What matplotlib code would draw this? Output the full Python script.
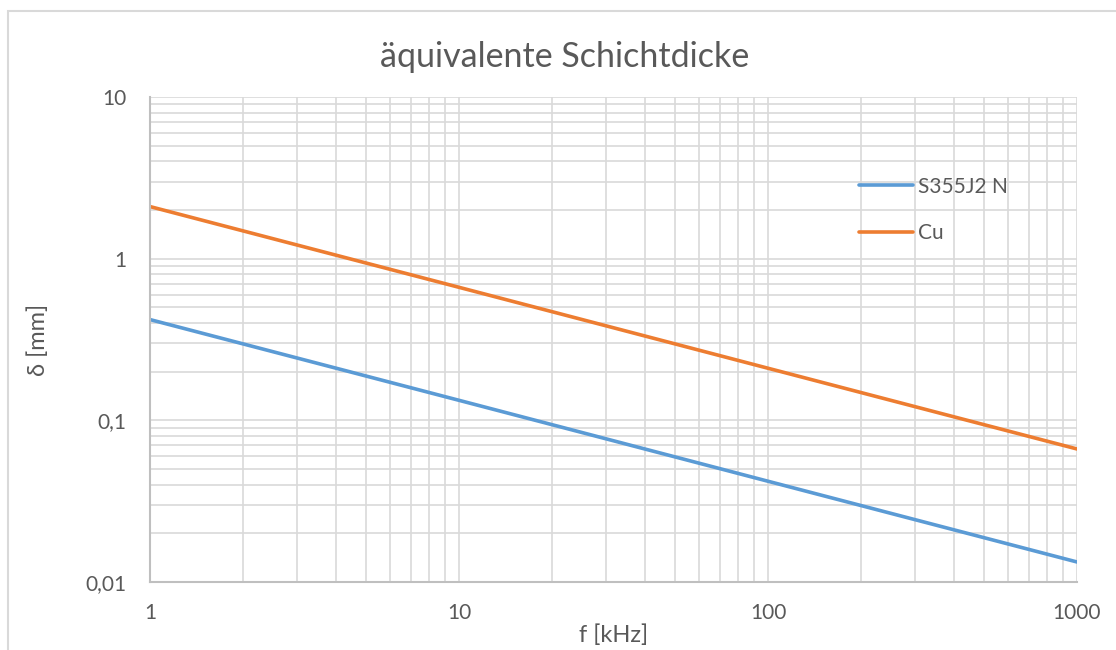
import matplotlib
matplotlib.use("Agg")
import matplotlib.pyplot as plt
from matplotlib.ticker import LogLocator, FixedLocator, FixedFormatter, NullFormatter
from matplotlib.patches import Rectangle

# Data
freq_khz = [1, 10, 100, 1000]
s355 = [0.42, 0.133, 0.042, 0.0133]
cu = [2.1, 0.665, 0.21, 0.0665]
series_names = ["S355J2 N", "Cu"]
x_ticks = [1, 10, 100, 1000]
x_ticklabels = ["1", "10", "100", "1000"]
y_ticks = [0.01, 0.1, 1, 10]
y_ticklabels = ["0,01", "0,1", "1", "10"]

plt.rcParams['font.family'] = ['Lato', 'DejaVu Sans']
txt = '#595959'

W, H = 1116, 650
fig = plt.figure(figsize=(W / 100, H / 100), dpi=100)
ax = fig.add_axes([150 / W, (H - 582) / H, (1077 - 150) / W, (582 - 97) / H])

# outer chart border
fig.patches.append(Rectangle((8 / W, -0.1), 1.2, (H - 11) / H + 0.1, transform=fig.transFigure,
                             fill=False, edgecolor='#d9d9d9', linewidth=1.5))

ax.plot(freq_khz, s355, color='#5B9BD5', linewidth=2.6, label=series_names[0], solid_capstyle='round')
ax.plot(freq_khz, cu, color='#ED7D31', linewidth=2.6, label=series_names[1], solid_capstyle='round')

ax.set_xscale('log')
ax.set_yscale('log')
ax.set_xlim(1, 1000)
ax.set_ylim(0.01, 10)

ax.xaxis.set_major_locator(FixedLocator(x_ticks))
ax.xaxis.set_major_formatter(FixedFormatter(x_ticklabels))
ax.yaxis.set_major_locator(FixedLocator(y_ticks))
ax.yaxis.set_major_formatter(FixedFormatter(y_ticklabels))
ax.xaxis.set_minor_locator(LogLocator(base=10, subs=range(2, 10)))
ax.yaxis.set_minor_locator(LogLocator(base=10, subs=range(2, 10)))
ax.xaxis.set_minor_formatter(NullFormatter())
ax.yaxis.set_minor_formatter(NullFormatter())

ax.grid(True, which='both', color='#d9d9d9', linewidth=1.2)
ax.set_axisbelow(True)
ax.tick_params(which='both', length=0, labelsize=15, colors=txt)
ax.tick_params(axis='x', pad=15)
ax.tick_params(axis='y', pad=17)

for s in ['top', 'right']:
    ax.spines[s].set_visible(False)
for s in ['left', 'bottom']:
    ax.spines[s].set_color('#bfbfbf')
    ax.spines[s].set_linewidth(1.5)

fig.text(565 / W, 1 - 57 / H, "äquivalente Schichtdicke", fontsize=24.5, color=txt,
         ha='center', va='center')
ax.set_xlabel("f [kHz]", fontsize=17, color=txt, labelpad=1)
ax.set_ylabel("δ [mm]", fontsize=17, color=txt, labelpad=26)

leg = ax.legend(loc='upper left', bbox_to_anchor=((840 - 150) / (1077 - 150), (97 - 158) / 485 + 1),
                frameon=False, fontsize=15, handlelength=2.6, labelspacing=1.25, handletextpad=0.25)
for t in leg.get_texts():
    t.set_color(txt)

fig.savefig("out.png", dpi=100)
